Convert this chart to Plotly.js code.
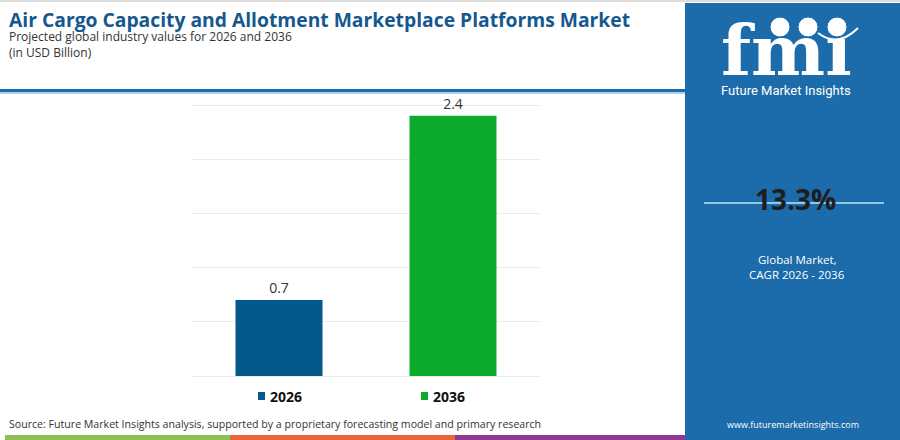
<!DOCTYPE html>
<html>
<head>
<meta charset="utf-8">
<script src="https://cdn.plot.ly/plotly-3.0.1.min.js"></script>
<style>
  html, body { margin: 0; padding: 0; background: #ffffff; }
  #chart { width: 900px; height: 440px; }
</style>
</head>
<body>
<div id="chart"></div>
<script>
// chart values
const categories = ['2026', '2036'];
const values = [0.7, 2.4];
const barColors = ['#03588c', '#0bab2c'];
const cagr = '13.3%';
const cagrLabel = ['Global Market,', 'CAGR 2026 - 2036'];

const titleText = 'Air Cargo Capacity and Allotment Marketplace Platforms Market';
const subtitleText = 'Projected global industry values for 2026 and 2036';
const unitText = '(in USD Billion)';
const sourceText = 'Source: Future Market Insights analysis, supported by a proprietary forecasting model and primary research';

// plot area in pixels (top a little above the 2.5 grid line so it gets drawn)
const W = 900, H = 440;
const M = { l: 192, r: 360, t: 103, b: 64 };
const plotW = W - M.l - M.r;
const plotH = H - M.t - M.b;
const yTop = 2.5 * plotH / 271;

// pixel -> paper helpers (for the decoration around the chart)
function px(x) { return (x - M.l) / plotW; }
function py(y) { return (H - M.b - y) / plotH; }

const panelBlue = '#1c6baa';

function rect(x0, y0, x1, y1, color) {
  return { type: 'rect', xref: 'paper', yref: 'paper', layer: 'above',
    x0: px(x0), x1: px(x1), y0: py(y0), y1: py(y1),
    fillcolor: color, line: { width: 0 } };
}

function label(text, x, y, opts) {
  return Object.assign({
    xref: 'paper', yref: 'paper', x: px(x), y: py(y), text: text,
    showarrow: false, xanchor: 'left', yanchor: 'middle',
    font: { family: 'Open Sans, sans-serif', size: 12, color: '#333333' }
  }, opts || {});
}

const shapes = [
  rect(0, 0, W, 2, '#dcdcdc'),
  rect(0, 89, 685, 92, panelBlue),
  rect(0, 92, 685, 94, '#a9d4f0'),
  rect(685, 3, W, H, panelBlue),
  { type: 'line', xref: 'paper', yref: 'paper', layer: 'above',
    x0: px(704), x1: px(884), y0: py(203), y1: py(203),
    line: { color: '#8fc6ec', width: 2 } },
  rect(5, 435, 230, H, '#8cc152'),
  rect(230, 435, 455, H, '#e8673a'),
  rect(455, 435, 685, H, '#8e3a8e')
];

// legend squares
const legendX = [258, 421];
categories.forEach((c, i) => {
  shapes.push(rect(legendX[i], 392, legendX[i] + 7, 400, barColors[i]));
});

// globes of the logo
[780, 808, 837].forEach(cx => {
  shapes.push({ type: 'circle', xref: 'paper', yref: 'paper', layer: 'above',
    x0: px(cx - 10), x1: px(cx + 10), y0: py(17), y1: py(37),
    fillcolor: '#ffffff', line: { color: panelBlue, width: 1 } });
});
shapes.push({ type: 'path', xref: 'paper', yref: 'paper', layer: 'above',
  path: 'M ' + px(818) + ' ' + py(33) + ' Q ' + px(838) + ' ' + py(48) + ' ' + px(858) + ' ' + py(28),
  line: { color: '#ffffff', width: 2 } });

const annotations = [
  label(titleText, 7, 20, { font: { family: 'Open Sans, sans-serif', size: 19.3, color: '#14588f', weight: 700 } }),
  label(subtitleText, 7, 37),
  label(unitText, 7, 53),
  label(sourceText, 7, 424, { font: { family: 'Open Sans, sans-serif', size: 10.6, color: '#333333' } }),
  label('fm\u0131', 786, 50, { xanchor: 'center', font: { family: 'DejaVu Serif, serif', size: 70, color: '#ffffff', weight: 700 } }),
  label('Future Market Insights', 786, 91, { xanchor: 'center', font: { family: 'Roboto, sans-serif', size: 13, color: '#ffffff' } }),
  label(cagr, 795, 199, { xanchor: 'center', font: { family: 'Open Sans, sans-serif', size: 28, color: '#1e1e1e', weight: 700 } }),
  label(cagrLabel[0], 797, 259, { xanchor: 'center', font: { family: 'Open Sans, sans-serif', size: 11.5, color: '#ffffff' } }),
  label(cagrLabel[1], 797, 274, { xanchor: 'center', font: { family: 'Open Sans, sans-serif', size: 11.5, color: '#ffffff' } }),
  label('www.futuremarketinsights.com', 793, 424, { xanchor: 'center', font: { family: 'Open Sans, sans-serif', size: 9, color: '#ffffff' } })
];

categories.forEach((c, i) => {
  annotations.push(label(c, legendX[i] + 10, 396, { font: { family: 'Open Sans, sans-serif', size: 14, color: '#111111', weight: 700 } }));
});

const data = [{
  type: 'bar',
  x: categories,
  y: values,
  width: 0.5,
  marker: { color: barColors },
  text: values.map(v => v.toFixed(1)),
  textposition: 'outside',
  textfont: { family: 'Open Sans, sans-serif', size: 14, color: '#333333' },
  cliponaxis: false,
  hoverinfo: 'skip'
}];

const layout = {
  width: W,
  height: H,
  margin: M,
  paper_bgcolor: '#ffffff',
  plot_bgcolor: '#ffffff',
  showlegend: false,
  xaxis: { type: 'category', showticklabels: false, showgrid: false, zeroline: false, fixedrange: true },
  yaxis: { range: [0, yTop], tick0: 0, dtick: 0.5, showticklabels: false, showgrid: true,
    gridcolor: '#ececec', gridwidth: 1, zeroline: true, zerolinecolor: '#ececec',
    zerolinewidth: 1, fixedrange: true },
  shapes: shapes,
  annotations: annotations
};

Plotly.newPlot('chart', data, layout, { displayModeBar: false, staticPlot: true });
</script>
</body>
</html>
